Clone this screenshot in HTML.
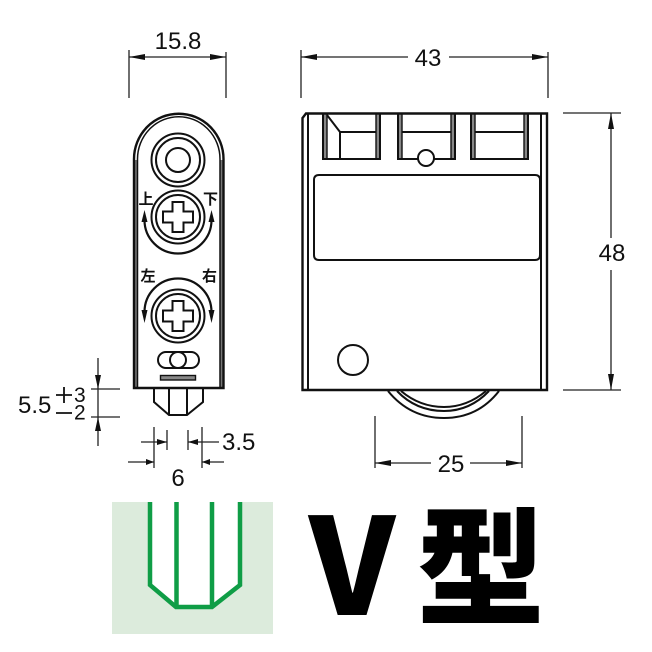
<!DOCTYPE html>
<html>
<head>
<meta charset="utf-8">
<style>
html,body{margin:0;padding:0;background:#fff;width:652px;height:652px;overflow:hidden}
svg{display:block}
text{font-family:"Liberation Sans","Noto Sans CJK JP",sans-serif;fill:#111}
</style>
</head>
<body>
<svg width="652" height="652" viewBox="0 0 652 652" xmlns="http://www.w3.org/2000/svg">
<defs>
<path id="cross" d="M-5.500,-15H5.500V-5.500H15V5.500H5.500V15H-5.500V5.500H-15V-5.500H-5.500Z" fill="none" stroke="#111" stroke-width="2"/>
</defs>
<rect width="652" height="652" fill="#fff"/>

<!-- left view -->
<rect x="134" y="160" width="4" height="228" fill="#777"/>
<rect x="220" y="160" width="4" height="228" fill="#777"/>
<g fill="none" stroke="#111" stroke-width="2">
<path d="M134,388V159A44.500,45 0 0 1 223.500,159V388Z" stroke-width="2.400"/>
<path d="M137.500,388V159A41,42 0 0 1 220,159V388" stroke-width="1.500"/>
<circle cx="178" cy="160" r="26.500"/>
<circle cx="178" cy="160" r="22"/>
<circle cx="178" cy="160" r="12"/>
<circle cx="178" cy="217" r="26.500"/>
<circle cx="178" cy="217" r="22"/>
<circle cx="178" cy="316" r="26.500"/>
<circle cx="178" cy="316" r="22"/>
<path d="M144.500,220A33.500,33.500 0 0 0 211.500,220" stroke-width="2.200"/>
<path d="M144.500,312A33.500,33.500 0 0 1 211.500,312" stroke-width="2.200"/>
<rect x="158" y="352" width="41" height="16" rx="8"/>
<circle cx="178" cy="360" r="8"/>
<path d="M154,389V402L169,415H187L203,402V389M169,389V415M187,389V415"/>
</g>
<use href="#cross" x="178" y="217"/>
<use href="#cross" x="178" y="316"/>
<rect x="160.500" y="375.500" width="35" height="4.500" fill="#888" stroke="#111" stroke-width="1.400"/>
<g fill="#111">
<path d="M141.500,222L144.500,210L147.500,222Z"/>
<path d="M208.500,222L211.500,210L214.500,222Z"/>
<path d="M141.500,310L144.500,323L147.500,310Z"/>
<path d="M208.500,310L211.500,323L214.500,310Z"/>
</g>
<g font-size="15" font-weight="700" text-anchor="middle">
<text x="146" y="204">上</text>
<text x="210.500" y="204">下</text>
<text x="148" y="281">左</text>
<text x="209.500" y="281">右</text>
</g>

<!-- right view -->
<g fill="#888">
<rect x="323" y="114" width="4" height="45"/>
<rect x="376" y="114" width="4" height="45"/>
<rect x="398" y="114" width="4" height="45"/>
<rect x="451" y="114" width="4" height="45"/>
<rect x="471" y="114" width="4" height="45"/>
<rect x="524" y="114" width="4" height="45"/>
</g>
<g fill="none" stroke="#111" stroke-width="2">
<path d="M302.500,390V118L306,113.500H547V390Z" stroke-width="2.400"/>
<path d="M308,114V389M541,114V389"/>
<path d="M323,114V159H380V114M398,114V159H418M434,159H455V114M471,114V159H528V114"/>
<path d="M327,114V159M376,114V159M402,114V159M451,114V159M475,114V159M524,114V159" stroke-width="1.400"/>
<path d="M327,115L340,132V159M340,132H376M402,132H451M475,132H524"/>
<circle cx="426" cy="158" r="8"/>
<path d="M319,175H535Q540,175 540,180V255Q540,260 535,260H319Q314,260 314,255V180Q314,175 319,175Z"/>
<circle cx="353" cy="360" r="15"/>
<path d="M388,391Q410,418 444,418Q478,418 499,391" stroke-width="2"/>
<path d="M397,391Q416,411 444,411Q470,411 489,391"/>
<path d="M401,391Q420,407 444,407Q467,407 486,391"/>
</g>

<!-- dimension lines -->
<g fill="none" stroke="#222" stroke-width="1.300">
<path d="M129,50V98M226,52V98M129,57H226"/>
<path d="M301,50V98M548,52V98M301,57H408M449,57H548"/>
<path d="M563,113H621M563,390H621M611,113V238M611,270V390"/>
<path d="M375,416V468M522,416V468M375,463H431M470,463H522"/>
<path d="M98,358V446M91,389H120M91,417H120"/>
<path d="M154,427V468M167,430V450M188,430V450M202,427V468M141,442H167M188,442H219M128,462H154M202,462H224"/>
</g>
<g fill="#111">
<path d="M129,57L145,54V60Z"/><path d="M226,57L210,54V60Z"/>
<path d="M301,57L317,54V60Z"/><path d="M548,57L532,54V60Z"/>
<path d="M611,113L608,129H614Z"/><path d="M611,390L608,374H614Z"/>
<path d="M375,463L391,460V466Z"/><path d="M522,463L506,460V466Z"/>
<path d="M98,389L95,375H101Z"/><path d="M98,417L95,431H101Z"/>
<path d="M167,442L157,439V445Z"/><path d="M188,442L198,439V445Z"/>
<path d="M154,462L146,459V465Z"/><path d="M202,462L210,459V465Z"/>
</g>
<g font-size="24">
<text x="178" y="49" text-anchor="middle">15.8</text>
<text x="428" y="66" text-anchor="middle">43</text>
<text x="612" y="261" text-anchor="middle">48</text>
<text x="451" y="472" text-anchor="middle">25</text>
<text x="222" y="450">3.5</text>
<text x="178" y="486" text-anchor="middle">6</text>
<text x="18" y="413">5.5</text>
<text x="74" y="402" font-size="21">3</text>
<text x="74" y="419.500" font-size="21">2</text>
</g>
<path d="M56,395H72M64,387V403M56,413H72" stroke="#111" stroke-width="1.800" fill="none"/>

<!-- V type -->
<rect x="112" y="502" width="161" height="132" fill="#dcebdc"/>
<path d="M150,502V585L176,607H212L238,585V502Z" fill="#fff"/>
<path d="M150,502V585L176,607H212L240,585V502M176.500,502V607M212,502V607" fill="none" stroke="#0f9d46" stroke-width="4.500"/>
<text x="309" y="615" font-size="134" style="font-family:'Noto Sans CJK JP',sans-serif;font-weight:900;fill:#000">V</text>
<text x="417" y="614.500" font-size="128" style="font-family:'Noto Sans CJK JP',sans-serif;font-weight:900;fill:#000">型</text>
</svg>
</body>
</html>
